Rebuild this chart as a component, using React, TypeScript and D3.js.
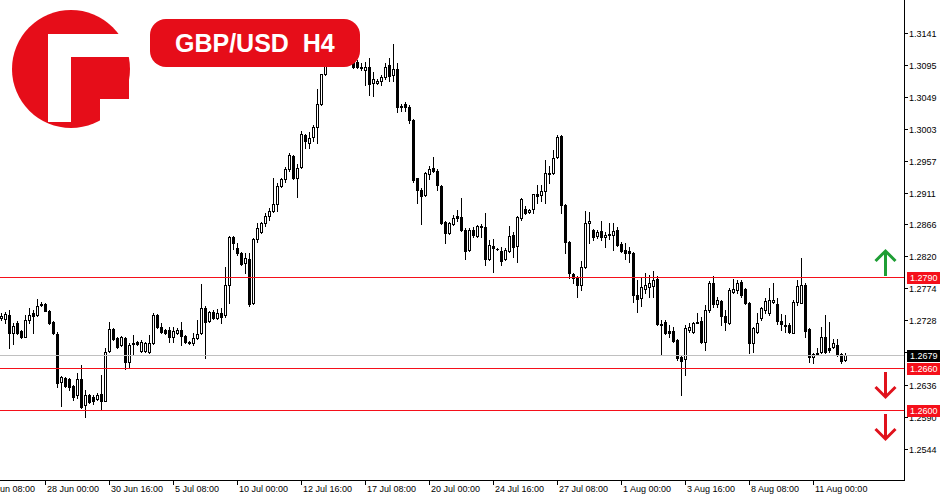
import React from 'react';
import * as d3 from 'd3';

const opens = [
1.2731,1.2730,1.2736,1.2710,1.2724,1.2713,1.2704,1.2729,1.2739,1.2736,1.2751,1.2751,1.2741,1.2726,1.2708,1.2640,1.2645,1.2644,1.2634,1.2621,
1.2644,1.2607,1.2621,1.2618,1.2616,1.2623,1.2612,1.2684,1.2716,1.2703,1.2693,1.2703,1.2668,1.2694,1.2697,1.2684,1.2684,1.2683,1.2696,1.2736,
1.2719,1.2714,1.2714,1.2704,1.2710,1.2714,1.2706,1.2697,1.2696,1.2703,1.2710,1.2746,1.2727,1.2740,1.2731,1.2739,1.2736,1.2779,1.2847,1.2832,
1.2825,1.2810,1.2816,1.2753,1.2845,1.2855,1.2868,1.2878,1.2885,1.2895,1.2921,1.2931,1.2945,1.2964,1.2933,1.2948,1.2994,1.2982,1.2991,1.3005,
1.3039,1.3081,1.3098,1.3108,1.3115,1.3105,1.3113,1.3104,1.3101,1.3098,1.3091,1.3087,1.3091,1.3068,1.3068,1.3072,1.3077,1.3094,1.3080,1.3088,
1.3034,1.3039,1.3034,1.3015,1.2932,1.2915,1.2908,1.2938,1.2946,1.2943,1.2921,1.2869,1.2853,1.2866,1.2878,1.2876,1.2857,1.2829,1.2857,1.2849,
1.2863,1.2862,1.2816,1.2835,1.2830,1.2827,1.2816,1.2827,1.2850,1.2835,1.2875,1.2888,1.2883,1.2888,1.2910,1.2908,1.2913,1.2939,1.2939,1.2962,
1.2992,1.2893,1.2840,1.2794,1.2790,1.2779,1.2804,1.2868,1.2857,1.2849,1.2856,1.2847,1.2852,1.2850,1.2857,1.2837,1.2829,1.2827,1.2825,1.2764,
1.2760,1.2773,1.2776,1.2777,1.2787,1.2723,1.2726,1.2713,1.2713,1.2700,1.2676,1.2673,1.2714,1.2711,1.2726,1.2727,1.2697,1.2743,1.2782,1.2751,
1.2756,1.2734,1.2724,1.2769,1.2771,1.2783,1.2773,1.2753,1.2696,1.2711,1.2731,1.2743,1.2739,1.2754,1.2751,1.2727,1.2721,1.2721,1.2710,1.2754,
1.2753,1.2779,1.2716,1.2676,1.2681,1.2683,1.2704,1.2688,1.2690,1.2693,1.2680,1.2671
];

const highs = [
1.2739,1.2740,1.2743,1.2724,1.2727,1.2714,1.2736,1.2746,1.2743,1.2759,1.2754,1.2753,1.2743,1.2727,1.2711,1.2648,1.2647,1.2645,1.2635,1.2653,
1.2664,1.2628,1.2623,1.2621,1.2624,1.2650,1.2688,1.2726,1.2717,1.2704,1.2706,1.2704,1.2696,1.2707,1.2698,1.2700,1.2697,1.2707,1.2739,1.2737,
1.2724,1.2716,1.2719,1.2719,1.2717,1.2726,1.2707,1.2698,1.2710,1.2729,1.2780,1.2749,1.2741,1.2743,1.2744,1.2746,1.2804,1.2849,1.2849,1.2839,
1.2826,1.2825,1.2825,1.2846,1.2868,1.2869,1.2882,1.2889,1.2933,1.2925,1.2933,1.2948,1.2968,1.2965,1.2952,1.2999,1.2996,1.2998,1.3008,1.3060,
1.3082,1.3108,1.3118,1.3124,1.3121,1.3118,1.3115,1.3108,1.3104,1.3101,1.3097,1.3098,1.3105,1.3084,1.3075,1.3080,1.3097,1.3104,1.3124,1.3097,
1.3039,1.3041,1.3037,1.3017,1.2933,1.2918,1.2941,1.2949,1.2962,1.2945,1.2922,1.2870,1.2869,1.2879,1.2886,1.2903,1.2860,1.2860,1.2862,1.2865,
1.2866,1.2882,1.2843,1.2845,1.2832,1.2833,1.2832,1.2863,1.2855,1.2878,1.2903,1.2892,1.2888,1.2910,1.2922,1.2922,1.2958,1.2949,1.2972,1.2994,
1.2994,1.2895,1.2842,1.2796,1.2792,1.2813,1.2885,1.2883,1.2859,1.2857,1.2870,1.2855,1.2868,1.2868,1.2862,1.2840,1.2839,1.2833,1.2826,1.2786,
1.2789,1.2796,1.2793,1.2799,1.2792,1.2729,1.2729,1.2721,1.2719,1.2701,1.2678,1.2721,1.2724,1.2726,1.2739,1.2733,1.2750,1.2784,1.2792,1.2761,
1.2757,1.2743,1.2774,1.2787,1.2786,1.2786,1.2774,1.2754,1.2719,1.2739,1.2747,1.2760,1.2774,1.2782,1.2760,1.2737,1.2736,1.2724,1.2757,1.2786,
1.2817,1.2782,1.2717,1.2681,1.2688,1.2719,1.2736,1.2726,1.2701,1.2701,1.2681,1.2681
];

const lows = [
1.2729,1.2724,1.2688,1.2694,1.2708,1.2703,1.2704,1.2724,1.2710,1.2734,1.2749,1.2741,1.2723,1.2708,1.2633,1.2605,1.2633,1.2628,1.2614,1.2617,
1.2602,1.2590,1.2610,1.2608,1.2614,1.2600,1.2612,1.2683,1.2700,1.2688,1.2691,1.2658,1.2660,1.2680,1.2693,1.2683,1.2683,1.2681,1.2694,1.2717,
1.2710,1.2708,1.2697,1.2697,1.2708,1.2693,1.2696,1.2694,1.2693,1.2701,1.2708,1.2674,1.2726,1.2730,1.2730,1.2724,1.2733,1.2753,1.2830,1.2822,
1.2807,1.2796,1.2749,1.2751,1.2840,1.2853,1.2863,1.2872,1.2883,1.2885,1.2919,1.2926,1.2943,1.2931,1.2905,1.2946,1.2976,1.2976,1.2986,1.2982,
1.3037,1.3080,1.3095,1.3104,1.3101,1.3098,1.3100,1.3097,1.3090,1.3090,1.3087,1.3065,1.3052,1.3050,1.3067,1.3065,1.3074,1.3071,1.3071,1.3027,
1.3028,1.3029,1.3011,1.2926,1.2896,1.2866,1.2906,1.2931,1.2941,1.2915,1.2866,1.2839,1.2852,1.2865,1.2870,1.2856,1.2816,1.2827,1.2847,1.2847,
1.2847,1.2807,1.2814,1.2797,1.2829,1.2807,1.2814,1.2826,1.2819,1.2812,1.2872,1.2880,1.2882,1.2882,1.2896,1.2900,1.2896,1.2925,1.2938,1.2961,
1.2882,1.2825,1.2789,1.2782,1.2761,1.2771,1.2803,1.2839,1.2843,1.2846,1.2843,1.2833,1.2845,1.2829,1.2835,1.2826,1.2816,1.2812,1.2754,1.2740,
1.2749,1.2767,1.2761,1.2761,1.2721,1.2680,1.2708,1.2704,1.2697,1.2671,1.2621,1.2650,1.2711,1.2710,1.2724,1.2696,1.2686,1.2740,1.2747,1.2747,
1.2721,1.2714,1.2723,1.2767,1.2767,1.2761,1.2751,1.2681,1.2683,1.2710,1.2729,1.2739,1.2736,1.2753,1.2723,1.2714,1.2711,1.2710,1.2710,1.2750,
1.2753,1.2704,1.2668,1.2667,1.2678,1.2681,1.2681,1.2683,1.2688,1.2677,1.2667,1.2670
];

const closes = [
1.2734,1.2737,1.2710,1.2720,1.2710,1.2704,1.2729,1.2736,1.2734,1.2749,1.2750,1.2741,1.2724,1.2710,1.2638,1.2647,1.2634,1.2633,1.2618,1.2644,
1.2604,1.2621,1.2611,1.2612,1.2621,1.2612,1.2683,1.2716,1.2701,1.2690,1.2704,1.2668,1.2693,1.2696,1.2694,1.2697,1.2696,1.2696,1.2736,1.2719,
1.2711,1.2710,1.2704,1.2713,1.2714,1.2706,1.2697,1.2696,1.2703,1.2708,1.2746,1.2726,1.2740,1.2731,1.2739,1.2733,1.2779,1.2847,1.2839,1.2825,
1.2809,1.2817,1.2751,1.2845,1.2860,1.2868,1.2878,1.2885,1.2895,1.2921,1.2931,1.2945,1.2965,1.2932,1.2946,1.2995,1.2985,1.2989,1.3005,1.3039,
1.3081,1.3098,1.3108,1.3115,1.3105,1.3113,1.3104,1.3101,1.3092,1.3092,1.3090,1.3091,1.3067,1.3074,1.3072,1.3077,1.3091,1.3078,1.3088,1.3034,
1.3035,1.3034,1.3015,1.2929,1.2915,1.2906,1.2939,1.2945,1.2942,1.2922,1.2868,1.2853,1.2868,1.2875,1.2875,1.2857,1.2827,1.2857,1.2850,1.2863,
1.2862,1.2816,1.2836,1.2832,1.2830,1.2813,1.2829,1.2849,1.2833,1.2876,1.2902,1.2882,1.2886,1.2909,1.2906,1.2913,1.2939,1.2938,1.2961,1.2991,
1.2893,1.2840,1.2796,1.2789,1.2779,1.2804,1.2868,1.2870,1.2847,1.2855,1.2847,1.2850,1.2851,1.2856,1.2836,1.2827,1.2825,1.2825,1.2764,1.2759,
1.2776,1.2779,1.2782,1.2786,1.2723,1.2721,1.2710,1.2710,1.2698,1.2674,1.2670,1.2717,1.2719,1.2724,1.2725,1.2697,1.2743,1.2782,1.2751,1.2757,
1.2734,1.2726,1.2771,1.2773,1.2782,1.2764,1.2753,1.2696,1.2717,1.2724,1.2746,1.2756,1.2757,1.2757,1.2727,1.2723,1.2720,1.2711,1.2754,1.2777,
1.2779,1.2713,1.2676,1.2680,1.2680,1.2704,1.2683,1.2686,1.2696,1.2680,1.2670,1.2679
];

const priceTicks = [1.3141, 1.3095, 1.3049, 1.3003, 1.2957, 1.2911, 1.2866, 1.2820, 1.2774, 1.2728, 1.2682, 1.2636, 1.2590, 1.2544];
const hiddenTickLabels = [1.2682];
const timeLabels = ['25 Jun 08:00', '28 Jun 00:00', '30 Jun 16:00', '5 Jul 08:00', '10 Jul 00:00', '12 Jul 16:00', '17 Jul 08:00', '20 Jul 00:00', '24 Jul 16:00', '27 Jul 08:00', '1 Aug 00:00', '3 Aug 16:00', '8 Aug 08:00', '11 Aug 00:00'];
const timeLabelBars = [-5, 11, 27, 43, 59, 75, 91, 107, 123, 139, 155, 171, 187, 203];
const resistanceLevel = 1.2790;
const supportLevels = [1.2660, 1.2600];
const currentPrice = 1.2679;
const title = 'GBP/USD  H4';

const RED = '#e60d19';
const LINE_RED = '#f5101a';
const FONT = '"Liberation Sans", Arial, sans-serif';

export default function App() {
  const n = Math.min(opens.length, highs.length, lows.length, closes.length);
  const xs = d3.scaleLinear().domain([n - 212, n - 1]).range([1, 845]);
  const ys = d3.scaleLinear().domain([1.2544, 1.3141]).range([448.7, 32.5]);
  const py = (v: number) => Math.round(ys(v));
  const axisX = 904;
  const axisY = 480;
  const levels = [resistanceLevel, ...supportLevels];

  const candles = d3.range(n).map((i) => {
    const o = opens[i], c = closes[i], h = highs[i], l = lows[i];
    const cx = Math.round(xs(i));
    const yo = py(o), yc = py(c), yh = py(h), yl = py(l);
    const top = Math.min(yo, yc), bot = Math.max(yo, yc);
    const bull = c > o;
    let body;
    if (bot - top < 1) {
      body = <rect x={cx - 1} y={top} width={3} height={1} fill="#000" />;
    } else if (bull) {
      body = <rect x={cx - 0.5} y={top + 0.5} width={2} height={bot - top} fill="#fff" stroke="#000" strokeWidth={1} />;
    } else {
      body = <rect x={cx - 1} y={top} width={3} height={bot - top + 1} fill="#000" />;
    }
    return (
      <g key={i}>
        <line x1={cx + 0.5} x2={cx + 0.5} y1={yh} y2={yl + 1} stroke="#000" strokeWidth={1} />
        {body}
      </g>
    );
  });

  const rY = py(resistanceLevel);
  const arrowX = 885.5;

  return (
    <svg width={950} height={500} style={{ position: 'absolute', left: 0, top: 0, background: '#fff' }} fontFamily={FONT}>
      <rect x={0} y={0} width={950} height={500} fill="#fff" />
      <g shapeRendering="crispEdges">
        {candles}
        <line x1={0} x2={axisX} y1={py(currentPrice) + 0.5} y2={py(currentPrice) + 0.5} stroke="#c0c0c0" />
        {levels.map((v, i) => (
          <rect key={i} x={0} y={py(v)} width={axisX} height={1} fill={LINE_RED} />
        ))}
        <line x1={axisX + 0.5} x2={axisX + 0.5} y1={0} y2={axisY + 1} stroke="#000" />
        <line x1={0} x2={axisX + 1} y1={axisY + 0.5} y2={axisY + 0.5} stroke="#000" />
        {priceTicks.map((t, i) => (
          <line key={i} x1={axisX} x2={axisX + 4} y1={py(t) + 0.5} y2={py(t) + 0.5} stroke="#000" />
        ))}
        {timeLabelBars.map((b, i) => {
          const tx = Math.round(xs(b));
          return <line key={i} x1={tx + 0.5} x2={tx + 0.5} y1={axisY} y2={axisY + 5} stroke="#000" />;
        })}
      </g>
      {priceTicks.filter((t) => !hiddenTickLabels.includes(t)).map((t, i) => (
        <text key={i} x={909} y={py(t) + 3.5} fontSize={9} fill="#000">{t.toFixed(4)}</text>
      ))}
      {timeLabelBars.map((b, i) => (
        <text key={i} x={Math.round(xs(b)) + 2} y={492} fontSize={9} fill="#000">{timeLabels[i]}</text>
      ))}
      <g shapeRendering="crispEdges">
        {levels.map((v, i) => (
          <rect key={i} x={907} y={py(v) - 5} width={33} height={12} fill={LINE_RED} />
        ))}
        <rect x={907} y={py(currentPrice) - 5} width={33} height={12} fill="#000" />
      </g>
      {levels.map((v, i) => (
        <text key={i} x={910} y={py(v) + 4} fontSize={9} fill="#fff">{v.toFixed(4)}</text>
      ))}
      <text x={910} y={py(currentPrice) + 4} fontSize={9} fill="#fff">{currentPrice.toFixed(4)}</text>
      <g fill="none" strokeWidth={3}>
        <line x1={arrowX} x2={arrowX} y1={rY - 26} y2={rY - 1} stroke="#1f9e35" />
        <polyline points={`${arrowX - 10},${rY - 16} ${arrowX},${rY - 26} ${arrowX + 10},${rY - 16}`} stroke="#1f9e35" />
        {supportLevels.map((v, i) => {
          const sy = py(v);
          return (
            <g key={i} stroke="#e0121c">
              <line x1={arrowX} x2={arrowX} y1={sy + 4} y2={sy + 29} />
              <polyline points={`${arrowX - 10},${sy + 19} ${arrowX},${sy + 29} ${arrowX + 10},${sy + 19}`} />
            </g>
          );
        })}
      </g>
      <g>
        <circle cx={71} cy={69} r={59} fill={RED} />
        <rect x={48} y={34} width={23} height={88} fill="#fff" />
        <rect x={48} y={34} width={90} height={23} fill="#fff" />
        <rect x={100} y={99} width={40} height={40} fill="#fff" />
        <path d="M71,57 H126 Q129,57 129,60 V99 H71 Z" fill={RED} />
      </g>
      <rect x={150} y={19} width={210} height={48} rx={16} ry={16} fill={RED} />
      <text x={175} y={52} fontSize={25} fontWeight="bold" fill="#fff" style={{ whiteSpace: 'pre' }}>{title}</text>
    </svg>
  );
}
